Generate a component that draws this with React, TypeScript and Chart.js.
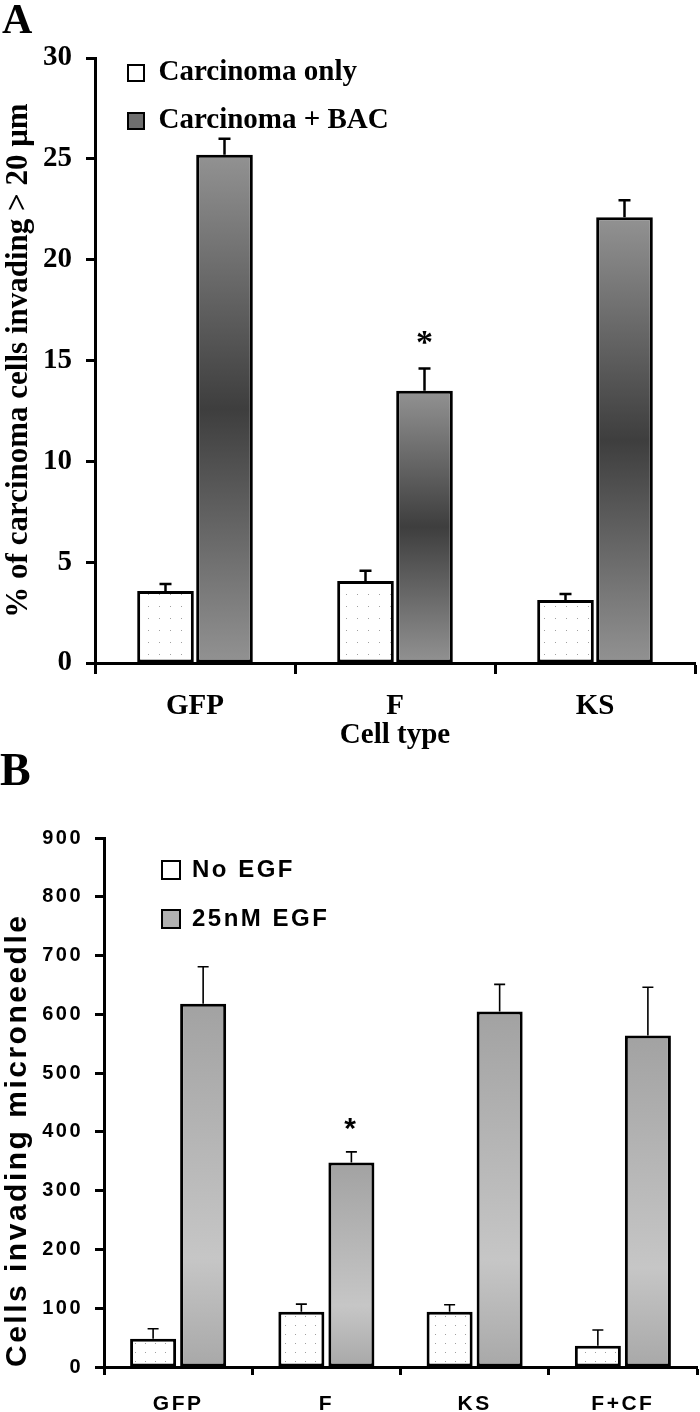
import React, { useEffect, useRef } from 'react';
import { Chart, registerables } from 'chart.js';

Chart.register(...registerables);

// ---------- Panel A data ----------
const categoriesA = ['GFP', 'F', 'KS'];
const seriesNamesA = ['Carcinoma only', 'Carcinoma + BAC'];
const carcinomaOnly = [3.57, 4.07, 3.12];
const carcinomaOnlyErr = [0.35, 0.5, 0.3];
const carcinomaBAC = [25.2, 13.5, 22.1];
const carcinomaBACErr = [0.8, 1.1, 0.85];
const yTicksA = [0, 5, 10, 15, 20, 25, 30];

// ---------- Panel B data ----------
const categoriesB = ['GFP', 'F', 'KS', 'F+CF'];
const seriesNamesB = ['No EGF', '25nM EGF'];
const noEGF = [48, 94, 94, 36];
const noEGFErr = [17, 13, 12, 27];
const egf25 = [618, 348, 605, 564];
const egf25Err = [63, 18, 46, 82];
const yTicksB = [0, 100, 200, 300, 400, 500, 600, 700, 800, 900];

const SERIF = 'Liberation Serif';
const SANS = 'Liberation Sans';

const errorBarsPlugin = {
  id: 'errorBars',
  afterDatasetsDraw(chart: any, _args: any, opts: any) {
    const { ctx } = chart;
    const ys = chart.scales.y;
    chart.data.datasets.forEach((ds: any, di: number) => {
      const errs: number[] = ds.errors || [];
      const meta = chart.getDatasetMeta(di);
      meta.data.forEach((bar: any, i: number) => {
        const v = ds.data[i];
        const e = errs[i];
        if (e == null) return;
        const yBar = ys.getPixelForValue(v);
        const yTop = ys.getPixelForValue(v + e);
        ctx.save();
        ctx.strokeStyle = '#000';
        ctx.lineWidth = opts.lineWidth;
        ctx.beginPath();
        ctx.moveTo(bar.x, yBar);
        ctx.lineTo(bar.x, yTop);
        ctx.moveTo(bar.x - opts.cap / 2, yTop);
        ctx.lineTo(bar.x + opts.cap / 2, yTop);
        ctx.stroke();
        ctx.restore();
      });
    });
  },
};

const starPlugin = {
  id: 'star',
  afterDatasetsDraw(chart: any, _args: any, opts: any) {
    const { ctx } = chart;
    const ys = chart.scales.y;
    const ds = chart.data.datasets[opts.datasetIndex];
    const bar = chart.getDatasetMeta(opts.datasetIndex).data[opts.index];
    const yTop = ys.getPixelForValue(ds.data[opts.index] + ds.errors[opts.index]);
    ctx.save();
    ctx.fillStyle = '#000';
    ctx.font = opts.font;
    ctx.textAlign = 'center';
    ctx.textBaseline = 'alphabetic';
    ctx.fillText('*', bar.x, yTop - opts.offset);
    ctx.restore();
  },
};

const panelLabelPlugin = {
  id: 'panelLabel',
  afterDraw(chart: any, _args: any, opts: any) {
    const { ctx } = chart;
    ctx.save();
    ctx.letterSpacing = '0px';
    ctx.fillStyle = '#000';
    ctx.font = opts.font;
    ctx.textAlign = 'left';
    ctx.textBaseline = 'alphabetic';
    ctx.fillText(opts.text, opts.x, opts.y);
    ctx.restore();
  },
};

const legendShiftPlugin = {
  id: 'legendShift',
  afterLayout(chart: any, _args: any, opts: any) {
    const l = chart.legend;
    if (!l) return;
    l.left += opts.dx;
    l.right += opts.dx;
    l.top += opts.dy;
    l.bottom += opts.dy;
  },
};

const spacingPlugin = {
  id: 'spacing',
  beforeUpdate(chart: any, _args: any, opts: any) {
    chart.ctx.letterSpacing = opts.value;
  },
  beforeDraw(chart: any, _args: any, opts: any) {
    chart.ctx.letterSpacing = opts.value;
  },
};

function dotPattern(target: CanvasRenderingContext2D, w: number, h: number) {
  const c = document.createElement('canvas');
  c.width = w;
  c.height = h;
  const x = c.getContext('2d')!;
  x.fillStyle = '#ffffff';
  x.fillRect(0, 0, w, h);
  x.fillStyle = '#a0a0a0';
  x.fillRect(Math.floor(w / 2), Math.floor(h / 2), 1, 1);
  return target.createPattern(c, 'repeat')!;
}

function barGradient(stops: [number, string][]) {
  return (ctx: any) => {
    const chart = ctx.chart;
    if (ctx.type !== 'data' || !chart.chartArea) return stops[0][1];
    const ys = chart.scales.y;
    const top = ys.getPixelForValue(ctx.raw);
    const bot = ys.getPixelForValue(0);
    const g = chart.ctx.createLinearGradient(0, top, 0, bot);
    stops.forEach(([o, c]) => g.addColorStop(o, c));
    return g;
  };
}

export default function App() {
  const refA = useRef<HTMLCanvasElement>(null);
  const refB = useRef<HTMLCanvasElement>(null);

  useEffect(() => {
    const ctxA = refA.current!.getContext('2d')!;
    const ctxB = refB.current!.getContext('2d')!;
    const dotsA = dotPattern(ctxA, 11, 12);
    const dotsB = dotPattern(ctxB, 10, 9);
    const legendFillsA = ['#ffffff', '#6e6e6e'];
    const legendFillsB = ['#ffffff', '#b0b0b0'];

    const chartA = new Chart(refA.current!, {
      type: 'bar',
      data: {
        labels: categoriesA,
        datasets: [
          {
            label: seriesNamesA[0],
            data: carcinomaOnly,
            errors: carcinomaOnlyErr,
            backgroundColor: dotsA,
            borderColor: '#000',
            borderWidth: 3,
            borderSkipped: false,
          } as any,
          {
            label: seriesNamesA[1],
            data: carcinomaBAC,
            errors: carcinomaBACErr,
            backgroundColor: barGradient([
              [0, '#929292'],
              [0.5, '#3e3e3e'],
              [1, '#929292'],
            ]),
            borderColor: '#000',
            borderWidth: 3,
            borderSkipped: false,
          } as any,
        ],
      },
      options: {
        animation: false,
        responsive: false,
        events: [],
        layout: { padding: { top: 58, right: 5, left: 0, bottom: 0 } },
        datasets: { bar: { categoryPercentage: 0.59, barPercentage: 0.96 } },
        scales: {
          x: {
            grid: {
              display: true,
              drawOnChartArea: false,
              drawTicks: true,
              tickLength: 11,
              tickWidth: 3,
              tickColor: '#000',
              offset: true,
            },
            border: { display: true, color: '#000', width: 3 },
            ticks: {
              color: '#000',
              padding: 15,
              font: { family: SERIF, size: 29, weight: 'bold' },
            },
            title: {
              display: true,
              text: 'Cell type',
              color: '#000',
              font: { family: SERIF, size: 29, weight: 'bold' },
              padding: { top: 0, bottom: 7 },
            },
            afterFit: (s: any) => {
              s.height = 97;
            },
          },
          y: {
            min: 0,
            max: 30,
            afterBuildTicks: (axis: any) => {
              axis.ticks = yTicksA.map((v) => ({ value: v }));
            },
            grid: {
              display: true,
              drawOnChartArea: false,
              drawTicks: true,
              tickLength: 9,
              tickWidth: 3,
              tickColor: '#000',
            },
            border: { display: true, color: '#000', width: 3 },
            ticks: {
              color: '#000',
              padding: 14,
              font: { family: SERIF, size: 29, weight: 'bold' },
            },
            title: {
              display: true,
              text: '% of carcinoma cells invading > 20 μm',
              color: '#000',
              font: { family: SERIF, size: 31, weight: 'bold' },
              padding: { top: 0, bottom: 0 },
            },
            afterFit: (s: any) => {
              s.width = 95;
            },
          },
        },
        plugins: {
          tooltip: { enabled: false },
          legend: {
            position: 'chartArea',
            align: 'start',
            labels: {
              color: '#000',
              font: { family: SERIF, size: 29, weight: 'bold' },
              boxWidth: 16,
              boxHeight: 16,
              padding: 19,
              generateLabels: (chart: any) =>
                chart.data.datasets.map((d: any, i: number) => ({
                  text: d.label,
                  fillStyle: legendFillsA[i],
                  strokeStyle: '#000',
                  lineWidth: 2,
                  hidden: false,
                  datasetIndex: i,
                })),
            },
          },
          errorBars: { lineWidth: 2.5, cap: 12 },
          star: { datasetIndex: 1, index: 1, font: `bold 34px "${SERIF}"`, offset: 16 },
          panelLabel: { text: 'A', x: 2, y: 33, font: `bold 42px "${SERIF}"` },
          legendShift: { dx: 14, dy: 39.5 },
        } as any,
      },
      plugins: [errorBarsPlugin, starPlugin, panelLabelPlugin, legendShiftPlugin],
    } as any);

    const chartB = new Chart(refB.current!, {
      type: 'bar',
      data: {
        labels: categoriesB,
        datasets: [
          {
            label: seriesNamesB[0],
            data: noEGF,
            errors: noEGFErr,
            backgroundColor: dotsB,
            borderColor: '#000',
            borderWidth: 3,
            borderSkipped: false,
          } as any,
          {
            label: seriesNamesB[1],
            data: egf25,
            errors: egf25Err,
            backgroundColor: barGradient([
              [0, '#a2a2a2'],
              [0.7, '#c6c6c6'],
              [1, '#a8a8a8'],
            ]),
            borderColor: '#000',
            borderWidth: 3,
            borderSkipped: false,
          } as any,
        ],
      },
      options: {
        animation: false,
        responsive: false,
        events: [],
        layout: { padding: { top: 93, right: 3, left: 0, bottom: 0 } },
        datasets: { bar: { categoryPercentage: 0.675, barPercentage: 0.92 } },
        scales: {
          x: {
            grid: {
              display: true,
              drawOnChartArea: false,
              drawTicks: true,
              tickLength: 8,
              tickWidth: 3,
              tickColor: '#000',
              offset: true,
            },
            border: { display: true, color: '#000', width: 3 },
            ticks: {
              color: '#000',
              padding: 17,
              font: { family: SANS, size: 21, weight: 'bold' },
            },
            afterFit: (s: any) => {
              s.height = 45;
            },
          },
          y: {
            min: 0,
            max: 900,
            afterBuildTicks: (axis: any) => {
              axis.ticks = yTicksB.map((v) => ({ value: v }));
            },
            grid: {
              display: true,
              drawOnChartArea: false,
              drawTicks: true,
              tickLength: 9,
              tickWidth: 3,
              tickColor: '#000',
            },
            border: { display: true, color: '#000', width: 3 },
            ticks: {
              color: '#000',
              padding: 12,
              font: { family: SANS, size: 20, weight: 'bold' },
            },
            title: {
              display: true,
              text: 'Cells invading microneedle',
              align: 'start',
              color: '#000',
              font: { family: SANS, size: 30, weight: 'bold' },
              padding: { top: 0, bottom: 0 },
            },
            afterFit: (s: any) => {
              s.width = 104;
            },
          },
        },
        plugins: {
          tooltip: { enabled: false },
          legend: {
            position: 'chartArea',
            align: 'start',
            labels: {
              color: '#000',
              font: { family: SANS, size: 24, weight: 'bold' },
              boxWidth: 18,
              boxHeight: 18,
              padding: 25,
              generateLabels: (chart: any) =>
                chart.data.datasets.map((d: any, i: number) => ({
                  text: d.label,
                  fillStyle: legendFillsB[i],
                  strokeStyle: '#000',
                  lineWidth: 2,
                  hidden: false,
                  datasetIndex: i,
                })),
            },
          },
          errorBars: { lineWidth: 1.6, cap: 11 },
          star: { datasetIndex: 1, index: 1, font: `bold 30px "${SANS}"`, offset: 14 },
          panelLabel: { text: 'B', x: 0, y: 40, font: `bold 46px "${SERIF}"` },
          legendShift: { dx: 33, dy: 88 },
          spacing: { value: '2.5px' },
        } as any,
      },
      plugins: [spacingPlugin, errorBarsPlugin, starPlugin, panelLabelPlugin, legendShiftPlugin],
    } as any);

    return () => {
      chartA.destroy();
      chartB.destroy();
    };
  }, []);

  return (
    <div style={{ position: 'absolute', left: 0, top: 0, width: 700, height: 1412, background: '#fff' }}>
      <canvas
        ref={refA}
        width={700}
        height={760}
        style={{ position: 'absolute', left: 0, top: 0, display: 'block' }}
      />
      <canvas
        ref={refB}
        width={700}
        height={667}
        style={{ position: 'absolute', left: 0, top: 745, display: 'block' }}
      />
    </div>
  );
}
